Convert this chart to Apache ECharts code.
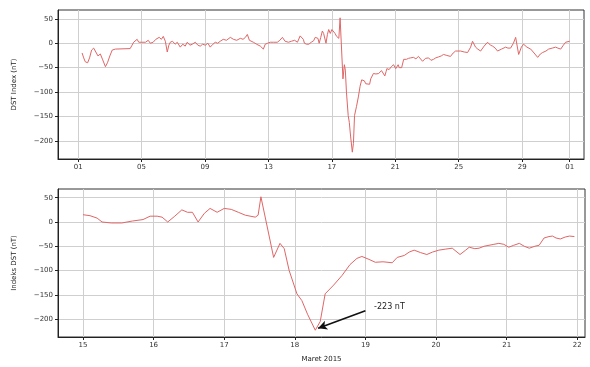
<!DOCTYPE html>
<html>
<head>
<meta charset="utf-8">
<script src="https://cdn.jsdelivr.net/npm/echarts@6/dist/echarts.min.js"></script>
<style>
html,body{margin:0;padding:0;background:#fff;}
#chart{width:590px;height:367px;}
</style>
</head>
<body>
<div id="chart"></div>
<script>
// x = day of March 2015 (1.0 = 1 Mar 00:00, 32.0 = 1 Apr 00:00)
const dayTimes = [
 1.25,1.35,1.45,1.6,1.72,1.85,1.98,2.1,2.25,2.4,2.55,2.72,2.85,3.0,3.15,3.35,
 4.28,4.4,4.5,4.62,4.72,4.82,4.91,5.02,5.1,5.25,5.42,5.55,5.73,5.9,6.11,6.25,6.37,6.5,6.62,6.72,6.81,6.95,
 7.12,7.25,7.44,7.6,7.75,7.88,8.05,8.2,8.39,8.55,8.7,8.85,9.02,9.18,9.33,9.5,9.65,9.8,9.96,10.15,10.35,10.6,
 10.79,11.0,11.23,11.4,11.55,11.67,11.8,11.9,12.05,12.25,12.49,12.6,12.68,12.8,12.95,13.12,13.31,13.56,13.72,13.88,
 14.05,14.26,14.45,14.65,14.83,
 15.0,15.1,15.2,15.27,15.4,15.55,15.7,15.85,15.95,16.05,16.12,16.2,16.3,16.4,16.48,16.55,16.63,16.72,16.8,16.9,
 17.0,17.1,17.2,17.3,17.44,17.48,17.52,17.7,17.79,17.85,17.92,18.03,18.1,18.18,18.29,18.36,18.43,18.55,18.67,18.78,
 18.88,18.95,19.05,19.14,19.25,19.38,19.45,19.55,19.62,19.69,19.78,19.87,19.95,20.04,20.13,20.23,20.34,20.42,20.47,20.55,
 20.61,20.68,20.75,20.82,20.89,20.96,21.03,21.1,21.18,21.25,21.32,21.4,21.46,21.53,21.6,21.65,21.7,21.76,21.83,21.89,21.96,
 22.15,22.3,22.46,22.72,22.9,23.1,23.25,23.41,23.55,23.73,23.9,24.04,24.25,24.48,24.65,24.8,25.12,25.35,25.56,25.75,25.87,
 26.06,26.2,26.38,26.6,26.82,27.0,27.14,27.3,27.45,27.7,27.96,28.1,28.27,28.45,28.59,28.78,28.95,29.09,29.3,29.54,29.75,
 29.98,30.15,30.29,30.5,30.67,30.9,31.11,31.25,31.43,31.6,31.74,32.0
];
const dstValues = [
 -20,-30,-38,-40,-30,-14,-10,-14,-26,-22,-34,-48,-40,-26,-14,-12,
 -11,-4,2,4,8,2,-2,2,4,2,6,0,2,8,12,8,14,4,-18,-4,2,4,
 -2,2,-8,-2,-6,2,-4,-2,2,-4,-6,-2,-4,0,-8,-2,2,0,4,8,6,12,
 8,6,10,8,12,18,6,2,2,-2,-6,-4,-12,-2,0,2,2,2,6,12,
 4,2,4,6,2,
 15,13,8,0,-2,-2,2,5,12,12,10,0,12,25,20,20,0,18,28,20,
 28,26,20,14,10,14,52,-73,-44,-55,-100,-148,-162,-190,-223,-205,-148,-130,-110,-88,
 -75,-71,-77,-83,-82,-84,-73,-69,-62,-58,-63,-67,-62,-58,-56,-54,-67,-58,-52,-55,
 -54,-50,-48,-46,-44,-46,-52,-48,-44,-50,-54,-50,-48,-33,-30,-29,-33,-35,-31,-29,-30,
 -29,-32,-27,-37,-31,-30,-35,-33,-30,-28,-26,-23,-25,-27,-20,-16,-16,-18,-19,-8,4,
 -8,-12,-16,-6,2,-4,-6,-10,-16,-12,-8,-10,-10,0,12,-23,-8,-2,-8,-12,-20,
 -29,-22,-19,-16,-12,-10,-8,-10,-12,-4,2,4
];
const topTicks = [1,5,9,13,17,21,25,29,32];
const topTickLabels = ['01','05','09','13','17','21','25','29','01'];
const bottomTicks = [15,16,17,18,19,20,21,22];
const bottomTickLabels = ['15','16','17','18','19','20','21','22'];
const yTicks = [-200,-150,-100,-50,0,50];
const minLabel = '-223 nT';
const arrowFrom = [19.0,-183];
const arrowTo = [18.33,-219];

const allData = dayTimes.map((d,i)=>[d,dstValues[i]]);
const zoomData = allData.filter(p=>p[0]>=15 && p[0]<=21.97);

const lineColor = '#e06666';
const gridColor = '#cfcfcf';
const font = 'DejaVu Sans';
const yLabelFmt = v => (v<0 ? '\u2212'+Math.abs(v) : String(v));

function yAxisCfg(idx,name){
  return {
    type:'value', gridIndex:idx, min:-237, max:68,
    name:name, nameLocation:'middle', nameGap:40,
    nameTextStyle:{fontSize:7, color:'#222', fontFamily:font},
    axisLine:{show:true, onZero:false, lineStyle:{color:'#222'}},
    axisTick:{show:true, length:3, customValues:yTicks, lineStyle:{color:'#222'}},
    axisLabel:{customValues:yTicks, formatter:yLabelFmt, fontSize:7, color:'#333', margin:5, fontFamily:font},
    splitLine:{show:true, lineStyle:{color:gridColor, width:1}}
  };
}

const chart = echarts.init(document.getElementById('chart'), null, {renderer:'canvas'});
chart.setOption({
  animation:false,
  backgroundColor:'#fff',
  grid:[
    {left:58, top:10, width:526, height:149, show:true, borderColor:'#333', borderWidth:1},
    {left:58, top:189, width:527, height:148, show:true, borderColor:'#333', borderWidth:1}
  ],
  xAxis:[
    {type:'value', gridIndex:0, min:-0.27, max:32.9,
     axisLine:{show:true, onZero:false, lineStyle:{color:'#222'}},
     axisTick:{show:true, length:3, customValues:topTicks, lineStyle:{color:'#222'}},
     axisLabel:{customValues:topTicks, fontSize:7, color:'#333', margin:5, fontFamily:font,
       formatter:v=>topTickLabels[topTicks.indexOf(v)]},
     splitLine:{show:true, lineStyle:{color:gridColor, width:1}}},
    {type:'value', gridIndex:1, min:14.646, max:22.11,
     name:'Maret 2015', nameLocation:'middle', nameGap:19,
     nameTextStyle:{fontSize:7, color:'#222', fontFamily:font},
     axisLine:{show:true, onZero:false, lineStyle:{color:'#222'}},
     axisTick:{show:true, length:3, customValues:bottomTicks, lineStyle:{color:'#222'}},
     axisLabel:{customValues:bottomTicks, fontSize:7, color:'#333', margin:5, fontFamily:font,
       formatter:v=>bottomTickLabels[bottomTicks.indexOf(v)]},
     splitLine:{show:true, lineStyle:{color:gridColor, width:1}}}
  ],
  yAxis:[yAxisCfg(0,'DST Index (nT)'), yAxisCfg(1,'Indeks DST (nT)')],
  series:[
    {type:'line', xAxisIndex:0, yAxisIndex:0, data:allData, showSymbol:false,
     lineStyle:{color:lineColor, width:1}},
    {type:'line', xAxisIndex:1, yAxisIndex:1, data:zoomData, showSymbol:false,
     lineStyle:{color:lineColor, width:1},
     markLine:{silent:true, symbol:['none','arrow'], symbolSize:[7,9], animation:false,
       lineStyle:{color:'#111', width:1.6, type:'solid'},
       label:{show:true, position:'start', formatter:minLabel, fontSize:8, color:'#222', fontFamily:font,
              align:'left', verticalAlign:'middle', offset:[4,-2]},
       data:[[{coord:arrowFrom},{coord:arrowTo}]]}}
  ]
});
</script>
</body>
</html>
